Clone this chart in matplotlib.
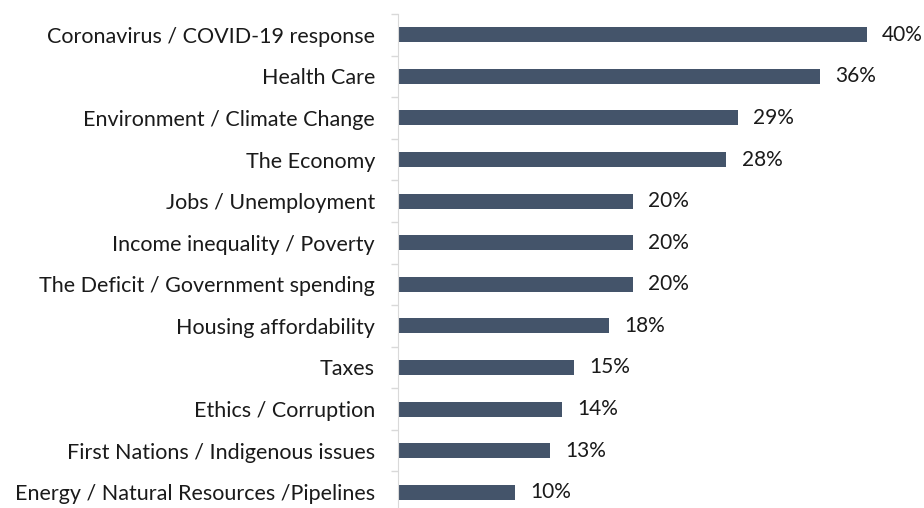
import numpy as np
import matplotlib.pyplot as plt

# Survey data: top issues
issues = [
    'Coronavirus / COVID-19 response',
    'Health Care',
    'Environment / Climate Change',
    'The Economy',
    'Jobs / Unemployment',
    'Income inequality / Poverty',
    'The Deficit / Government spending',
    'Housing affordability',
    'Taxes',
    'Ethics / Corruption',
    'First Nations / Indigenous issues',
    'Energy / Natural Resources /Pipelines',
]
pct = [40, 36, 29, 28, 20, 20, 20, 18, 15, 14, 13, 10]

bar_color = '#44546A'
plt.rcParams['font.family'] = ['Lato', 'DejaVu Sans']

fig = plt.figure(figsize=(9.24, 5.08), dpi=100)
ax_left = 398 / 924
ax_w = 44 * 11.725 / 924
ax_top = 1 - 14 / 508
ax_h = 499 / 508
ax = fig.add_axes([ax_left, ax_top - ax_h, ax_w, ax_h])

y = np.arange(len(issues))
ax.barh(y, pct, height=0.36, color=bar_color)
ax.set_ylim(len(issues) - 0.5, -0.5)
ax.set_xlim(0, 44)

for yi, v in zip(y, pct):
    ax.text(v + 1.3, yi, f'{v}%', va='center', ha='left', fontsize=15, color='#1a1a1a')

ax.set_yticks(y)
ax.set_yticklabels(issues, fontsize=15.5, color='#1a1a1a')
ax.set_yticks(np.arange(len(issues) + 1) - 0.5, minor=True)
ax.tick_params(axis='y', which='major', length=0, pad=16.5)
ax.tick_params(axis='y', which='minor', length=5, color='#D9D9D9', width=1)
ax.set_xticks([])
for s in ['top', 'right', 'bottom']:
    ax.spines[s].set_visible(False)
ax.spines['left'].set_color('#D9D9D9')

fig.savefig('out.png', dpi=100)
